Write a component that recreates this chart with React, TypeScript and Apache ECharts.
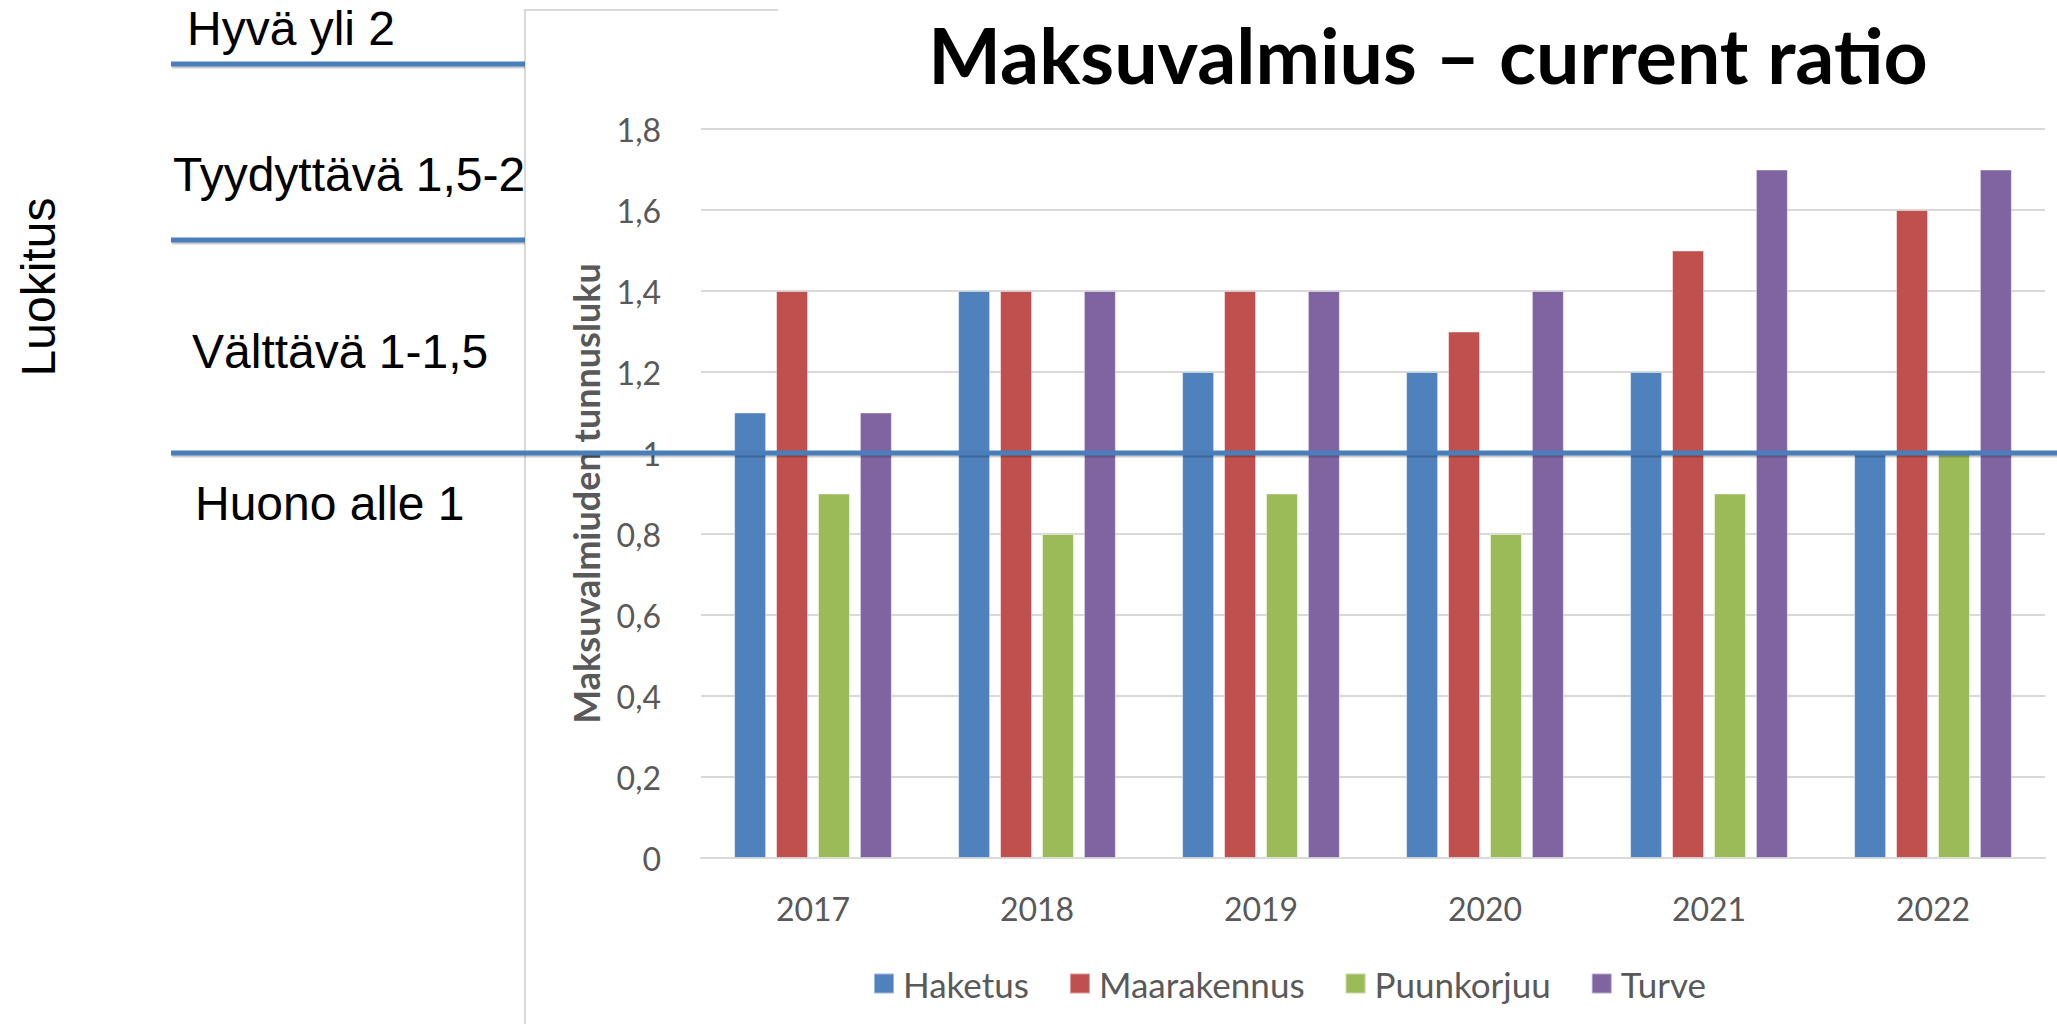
import React, { useEffect, useRef } from "react";
import * as echarts from "echarts";

const categories = ["2017", "2018", "2019", "2020", "2021", "2022"];
const haketus = [1.1, 1.4, 1.2, 1.2, 1.2, 1.0];
const maarakennus = [1.4, 1.4, 1.4, 1.3, 1.5, 1.6];
const puunkorjuu = [0.9, 0.8, 0.9, 0.8, 0.9, 1.0];
const turve = [1.1, 1.4, 1.4, 1.4, 1.7, 1.7];
const seriesNames = ["Haketus", "Maarakennus", "Puunkorjuu", "Turve"];
const seriesColors = ["#4F81BD", "#C0504D", "#9BBB59", "#8064A2"];
const yMin = 0;
const yMax = 1.8;
const yStep = 0.2;
const thresholdValue = 1;
const classLabels = ["Hyvä yli 2", "Tyydyttävä 1,5-2", "Välttävä 1-1,5", "Huono alle 1"];
const titleText = "Maksuvalmius – current ratio";
const yName = "Maksuvalmiuden tunnusluku";
const sideTitle = "Luokitus";

const chartFont = "Lato";
const slideFont = "'Liberation Sans', Arial, sans-serif";
const lineBlue = "#4A7EBB";

export default function App() {
  const ref = useRef<HTMLDivElement>(null);
  useEffect(() => {
    document.body.style.margin = "0";
    const chart = echarts.init(ref.current!, null, { renderer: "svg" });
    const data = [haketus, maarakennus, puunkorjuu, turve];
    chart.setOption({
      animation: false,
      backgroundColor: "#ffffff",
      grid: { left: 701, right: 12, top: 129, bottom: 166, containLabel: false },
      legend: {
        left: 868,
        top: 961,
        itemWidth: 20,
        itemHeight: 20,
        itemGap: 40,
        icon: "rect",
        data: seriesNames,
        textStyle: { fontFamily: chartFont, fontSize: 35, color: "#595959", padding: [0, 0, 0, 4] },
      },
      xAxis: {
        type: "category",
        data: categories,
        axisLine: { show: true, lineStyle: { color: "#d9d9d9", width: 2 } },
        axisTick: { show: false },
        axisLabel: { fontFamily: chartFont, fontSize: 32, color: "#595959", margin: 34 },
      },
      yAxis: {
        type: "value",
        min: yMin,
        max: yMax,
        interval: yStep,
        name: yName,
        nameLocation: "middle",
        nameGap: 97,
        nameTextStyle: { fontFamily: chartFont, fontSize: 36, fontWeight: "bold", color: "#595959" },
        axisLine: { show: false },
        axisTick: { show: false },
        splitLine: { lineStyle: { color: "#d9d9d9", width: 2 } },
        axisLabel: {
          fontFamily: chartFont,
          fontSize: 32,
          color: "#595959",
          margin: 40,
          formatter: (v: number) => String(Math.round(v * 10) / 10).replace(".", ","),
        },
      },
      series: seriesNames.map((name, i) => ({
        name,
        type: "bar",
        data: data[i],
        barWidth: 32,
        barGap: "31%",
        barCategoryGap: "31%",
        itemStyle: { color: seriesColors[i], borderColor: "rgba(255,255,255,0.45)", borderWidth: 1 },
      })),
    });

    const yOne = chart.convertToPixel({ yAxisIndex: 0 }, thresholdValue) as number;
    const hLine = (x1: number, x2: number, y: number) => [
      {
        type: "line",
        z: 89,
        shape: { x1: x1 + 1, y1: y + 3, x2, y2: y + 3 },
        style: { stroke: "rgba(0,0,0,0.2)", lineWidth: 3 },
      },
      {
        type: "line",
        z: 90,
        shape: { x1, y1: y, x2, y2: y },
        style: { stroke: lineBlue, lineWidth: 5 },
      },
    ];
    const slideText = (text: string, x: number, y: number) => ({
      type: "text",
      x,
      y,
      z: 100,
      style: {
        text,
        fontFamily: slideFont,
        fontSize: 48,
        fill: "#000000",
        align: "left",
        verticalAlign: "middle",
      },
    });
    chart.setOption({
      graphic: [
        {
          type: "polyline",
          z: 1,
          shape: { points: [[525, 1024], [525, 10], [778, 10]] },
          style: { stroke: "#d9d9d9", lineWidth: 2, fill: null },
        },
        {
          type: "text",
          x: 1428,
          y: 54,
          z: 100,
          style: {
            text: titleText,
            fontFamily: chartFont,
            fontWeight: "bold",
            fontSize: 77,
            fill: "#000000",
            align: "center",
            verticalAlign: "middle",
          },
        },
        {
          type: "text",
          x: 38,
          y: 287,
          rotation: Math.PI / 2,
          z: 100,
          style: {
            text: sideTitle,
            fontFamily: slideFont,
            fontSize: 48,
            fill: "#000000",
            align: "center",
            verticalAlign: "middle",
          },
        },
        slideText(classLabels[0], 187, 28),
        slideText(classLabels[1], 173, 174),
        slideText(classLabels[2], 192, 351),
        slideText(classLabels[3], 195, 503),
        ...hLine(171, 525, 64),
        ...hLine(171, 525, 240),
        ...hLine(171, 2057, yOne),
      ],
    });
    return () => chart.dispose();
  }, []);
  return <div ref={ref} style={{ width: 2057, height: 1024 }} />;
}
